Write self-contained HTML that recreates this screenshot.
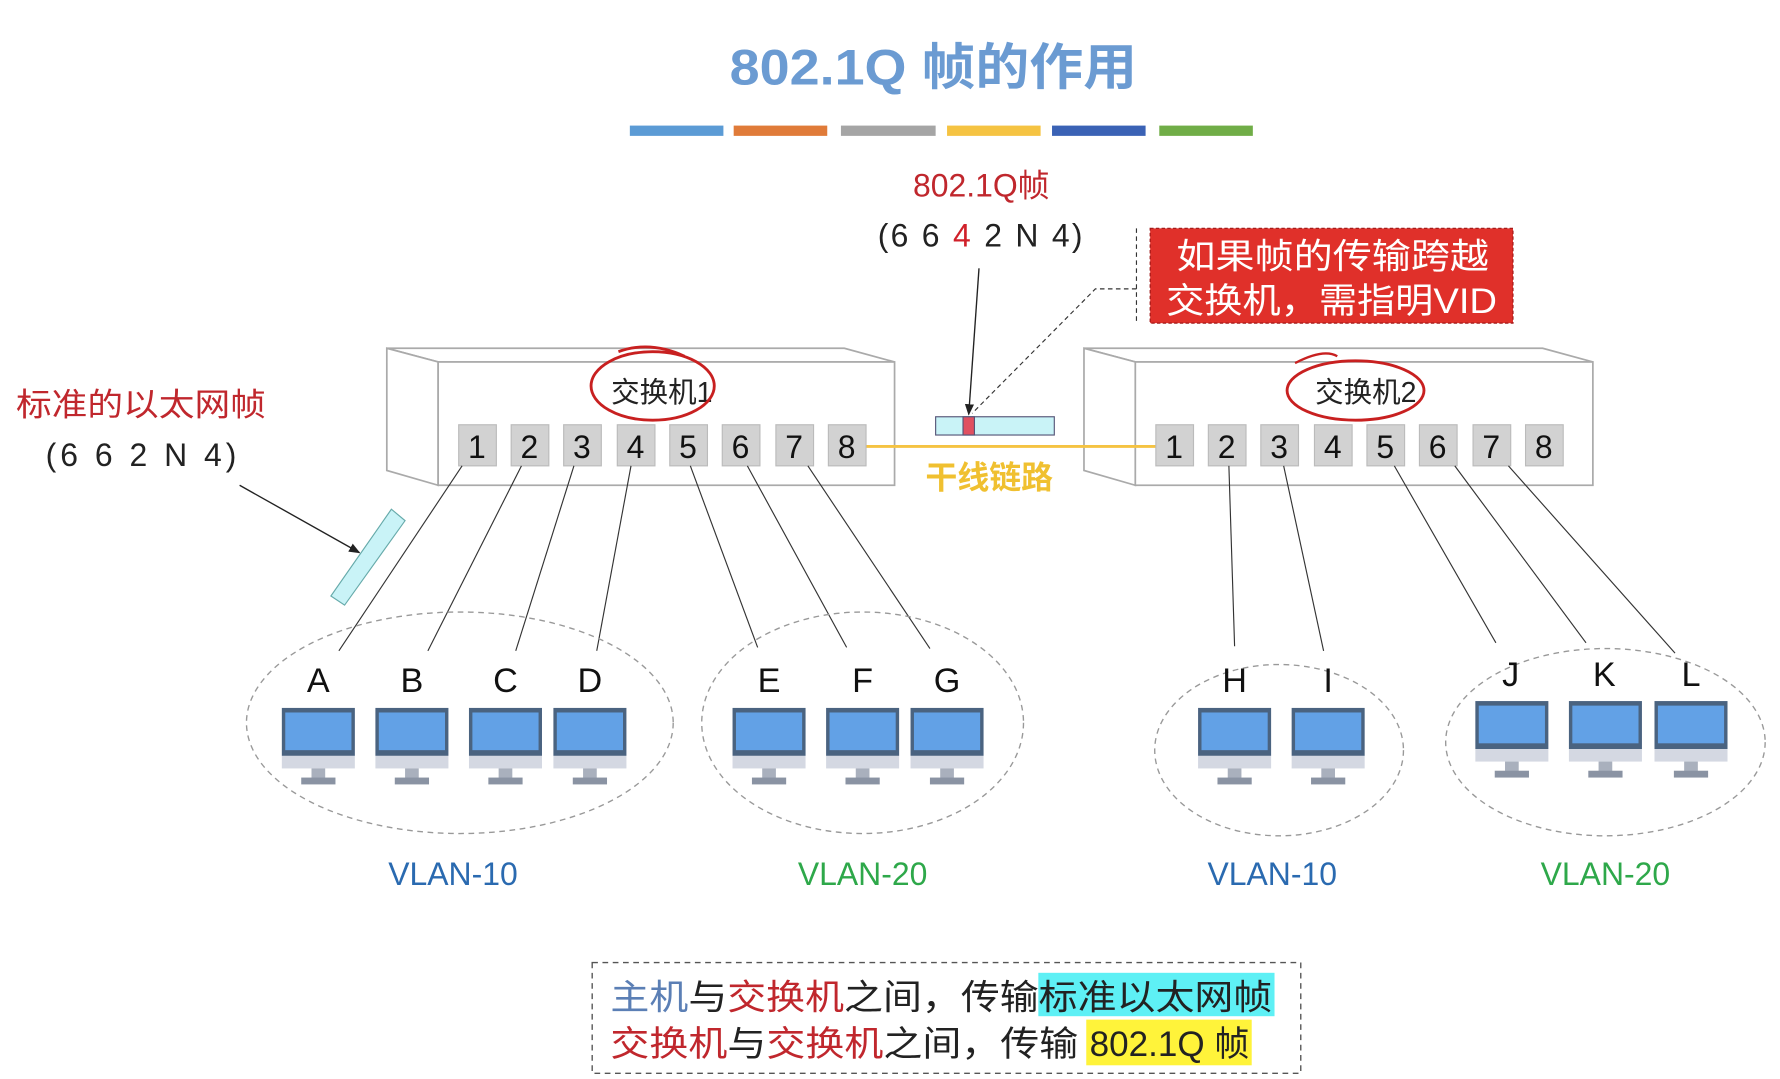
<!DOCTYPE html>
<html><head><meta charset="utf-8"><style>html,body{margin:0;padding:0;background:#fff}svg{display:block}
text{font-family:"Liberation Sans","Noto Sans CJK SC",sans-serif}</style></head><body>
<svg width="1780" height="1079" viewBox="0 0 1560 945" preserveAspectRatio="none" xmlns="http://www.w3.org/2000/svg">
<defs><marker id="ah" markerWidth="10" markerHeight="10" refX="9" refY="5" orient="auto" markerUnits="userSpaceOnUse"><path d="M0,1 L10,5 L0,9 z" fill="#222"/></marker></defs>
<rect width="1560" height="945" fill="#fff"/>
<text x="818" y="74" font-size="44" font-weight="bold" fill="#6b9bd2" text-anchor="middle" textLength="357" lengthAdjust="spacingAndGlyphs">802.1Q 帧的作用</text>
<g>
<rect x="552" y="110" width="82" height="9" fill="#5b9bd5"/><rect x="643" y="110" width="82" height="9" fill="#e07b39"/>
<rect x="737" y="110" width="83" height="9" fill="#a5a5a5"/><rect x="830" y="110" width="82" height="9" fill="#f5c342"/>
<rect x="922" y="110" width="82" height="9" fill="#3a62b5"/><rect x="1016" y="110" width="82" height="9" fill="#70ad47"/>
</g>
<text x="860" y="172" font-size="28" fill="#c0272d" text-anchor="middle">802.1Q帧</text>
<text x="860" y="216" font-size="28" fill="#222" text-anchor="middle" letter-spacing="2">(6 6 <tspan fill="#d0202a">4</tspan> 2 N 4)</text>
<rect x="1008" y="200" width="318" height="83" fill="#e0302a" stroke="#a01818" stroke-dasharray="3,2"/>
<text x="1031" y="235" font-size="31" fill="#fff" textLength="274" lengthAdjust="spacingAndGlyphs">如果帧的传输跨越</text>
<text x="1022" y="274" font-size="31" fill="#fff" textLength="290" lengthAdjust="spacingAndGlyphs">交换机，需指明VID</text>
<line x1="996" y1="200" x2="996" y2="283" stroke="#333" stroke-dasharray="4,3"/>
<polyline points="996,253 960,253 852,362" fill="none" stroke="#333" stroke-dasharray="4,3"/>
<line x1="858" y1="235" x2="849" y2="363" stroke="#222" stroke-width="1.2" marker-end="url(#ah)"/>
<g stroke="#aaa" stroke-width="1.5" fill="#fff">
<polygon points="339,305 740,305 784,317 384,317"/>
<polygon points="339,305 384,317 384,425 339,412"/>
<rect x="384" y="317" width="400" height="108"/>
<polygon points="950,305 1352,305 1396,317 995,317"/>
<polygon points="950,305 995,317 995,425 950,412"/>
<rect x="995" y="317" width="401" height="108"/>
</g>
<line x1="758" y1="391" x2="1013" y2="391" stroke="#f5c342" stroke-width="2.5"/>
<g fill="#d2d2d2" stroke="#bbb">
<rect x="402" y="372" width="33" height="36"/><rect x="448" y="372" width="33" height="36"/><rect x="494" y="372" width="33" height="36"/><rect x="541" y="372" width="33" height="36"/><rect x="587" y="372" width="33" height="36"/><rect x="633" y="372" width="33" height="36"/><rect x="680" y="372" width="33" height="36"/><rect x="726" y="372" width="33" height="36"/>
<rect x="1013" y="372" width="33" height="36"/><rect x="1059" y="372" width="33" height="36"/><rect x="1105" y="372" width="33" height="36"/><rect x="1152" y="372" width="33" height="36"/><rect x="1198" y="372" width="33" height="36"/><rect x="1244" y="372" width="33" height="36"/><rect x="1291" y="372" width="33" height="36"/><rect x="1337" y="372" width="33" height="36"/>
</g>
<g font-size="28" fill="#111" text-anchor="middle">
<text x="418" y="401">1</text><text x="464" y="401">2</text><text x="510" y="401">3</text><text x="557" y="401">4</text><text x="603" y="401">5</text><text x="649" y="401">6</text><text x="696" y="401">7</text><text x="742" y="401">8</text>
<text x="1029" y="401">1</text><text x="1075" y="401">2</text><text x="1121" y="401">3</text><text x="1168" y="401">4</text><text x="1214" y="401">5</text><text x="1260" y="401">6</text><text x="1307" y="401">7</text><text x="1353" y="401">8</text>
</g>
<text x="580" y="352" font-size="25" fill="#222" text-anchor="middle">交换机1</text>
<text x="1197" y="352" font-size="25" fill="#222" text-anchor="middle">交换机2</text>
<ellipse cx="572" cy="338" rx="54" ry="30" fill="none" stroke="#c82020" stroke-width="2.5"/>
<path d="M542,308 Q570,298 600,312" fill="none" stroke="#c82020" stroke-width="2.5"/>
<ellipse cx="1188" cy="342" rx="60" ry="26" fill="none" stroke="#c82020" stroke-width="2.5"/>
<path d="M1135,318 Q1160,305 1172,312" fill="none" stroke="#c82020" stroke-width="2"/>
<rect x="820" y="365" width="104" height="16" fill="#c9f3f7" stroke="#557" stroke-width="1"/>
<rect x="844" y="365" width="10" height="16" fill="#e05060" stroke="#557" stroke-width="1"/>
<text x="867" y="428" font-size="28" font-weight="bold" fill="#f0c030" text-anchor="middle">干线链路</text>
<text x="14" y="364" font-size="28" fill="#c0272d" textLength="219" lengthAdjust="spacingAndGlyphs">标准的以太网帧</text>
<text x="40" y="408" font-size="28" fill="#222" letter-spacing="3.5">(6 6 2 N 4)</text>
<line x1="210" y1="425" x2="315" y2="484" stroke="#222" stroke-width="1.2" marker-end="url(#ah)"/>
<polygon points="290,522 302,530 355,456 343,446" fill="#c9f3f7" stroke="#6aa" stroke-width="1"/>
<g stroke="#333" stroke-width="1">
<line x1="405" y1="408" x2="297" y2="570"/><line x1="457" y1="408" x2="375" y2="570"/><line x1="503" y1="408" x2="452" y2="570"/><line x1="553" y1="408" x2="523" y2="570"/>
<line x1="605" y1="408" x2="664" y2="567"/><line x1="655" y1="408" x2="742" y2="567"/><line x1="708" y1="408" x2="815" y2="568"/>
<line x1="1077" y1="408" x2="1082" y2="566"/><line x1="1125" y1="408" x2="1160" y2="570"/><line x1="1222" y1="408" x2="1311" y2="563"/><line x1="1275" y1="408" x2="1390" y2="563"/><line x1="1322" y1="408" x2="1468" y2="572"/>
</g>
<g fill="none" stroke="#999" stroke-dasharray="5,4" stroke-width="1.2">
<ellipse cx="403" cy="633" rx="187" ry="97"/><ellipse cx="756" cy="633" rx="141" ry="97"/>
<ellipse cx="1121" cy="657" rx="109" ry="75"/><ellipse cx="1407" cy="650" rx="140" ry="82"/>
</g>
<g font-size="30" fill="#111" text-anchor="middle">
<text x="279" y="606">A</text><text x="361" y="606">B</text><text x="443" y="606">C</text><text x="517" y="606">D</text>
<text x="674" y="606">E</text><text x="756" y="606">F</text><text x="830" y="606">G</text>
<text x="1082" y="606">H</text><text x="1164" y="606">I</text>
<text x="1324" y="601">J</text><text x="1406" y="601">K</text><text x="1482" y="601">L</text>
</g>
<defs><g id="mon">
<rect x="-32" y="0" width="64" height="42" fill="#4a6380"/>
<rect x="-29" y="4" width="58" height="33" fill="#62a1e6"/>
<rect x="-32" y="42" width="64" height="11" fill="#d4d8e2"/>
<rect x="-6" y="53" width="12" height="9" fill="#a9b0bd"/>
<rect x="-15" y="61" width="30" height="6" fill="#8a93a3"/>
</g></defs>
<use href="#mon" x="279" y="620"/><use href="#mon" x="361" y="620"/><use href="#mon" x="443" y="620"/><use href="#mon" x="517" y="620"/>
<use href="#mon" x="674" y="620"/><use href="#mon" x="756" y="620"/><use href="#mon" x="830" y="620"/>
<use href="#mon" x="1082" y="620"/><use href="#mon" x="1164" y="620"/>
<use href="#mon" x="1325" y="614"/><use href="#mon" x="1407" y="614"/><use href="#mon" x="1482" y="614"/>
<g font-size="28" text-anchor="middle">
<text x="397" y="775" fill="#2a6ab0">VLAN-10</text><text x="756" y="775" fill="#2ea84a">VLAN-20</text>
<text x="1115" y="775" fill="#2a6ab0">VLAN-10</text><text x="1407" y="775" fill="#2ea84a">VLAN-20</text>
</g>
<rect x="519" y="843" width="621" height="97" fill="none" stroke="#555" stroke-dasharray="5,4" stroke-width="1.2"/>
<rect x="910" y="852" width="207" height="38" fill="#5ef0f5"/>
<rect x="952" y="893" width="145" height="40" fill="#fff33a"/>
<text x="535" y="884" font-size="31" fill="#222" textLength="580" lengthAdjust="spacingAndGlyphs"><tspan fill="#5b7fb5">主机</tspan>与<tspan fill="#c0272d">交换机</tspan>之间，传输标准以太网帧</text>
<text x="535" y="925" font-size="31" fill="#222" textLength="410" lengthAdjust="spacingAndGlyphs"><tspan fill="#c0272d">交换机</tspan>与<tspan fill="#c0272d">交换机</tspan>之间，传输</text>
<text x="955" y="925" font-size="31" fill="#222" textLength="140" lengthAdjust="spacingAndGlyphs">802.1Q 帧</text>
</svg>
</body></html>
